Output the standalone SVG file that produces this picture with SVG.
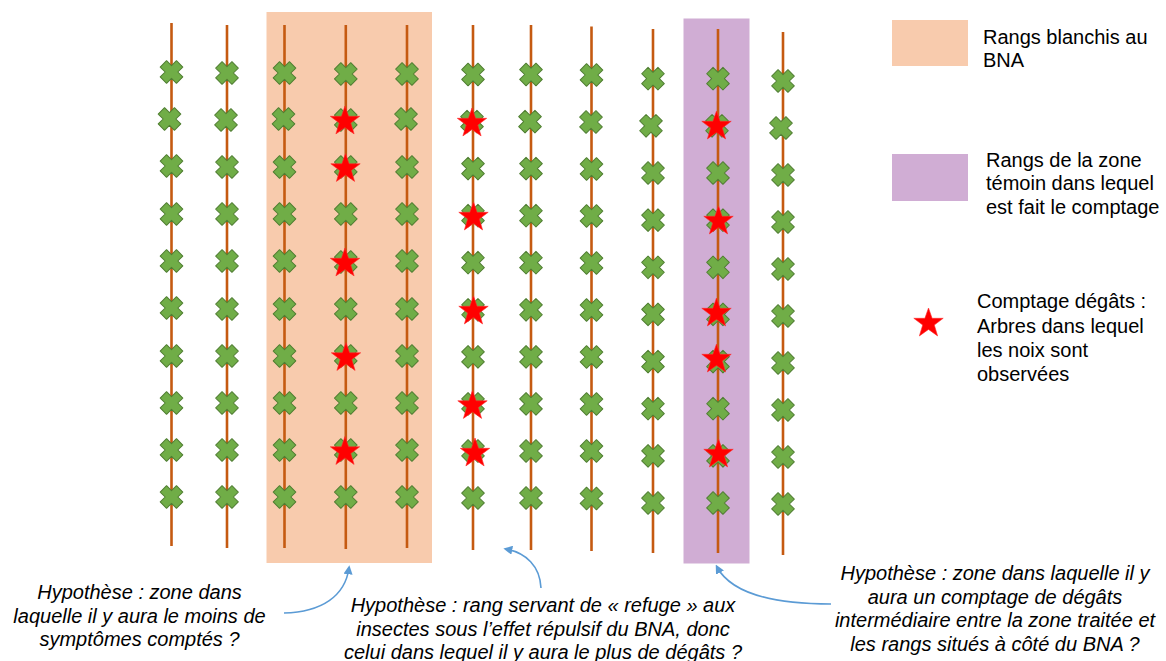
<svg xmlns="http://www.w3.org/2000/svg" xmlns:xlink="http://www.w3.org/1999/xlink" width="1166" height="661" viewBox="0 0 1166 661">
<style>
.row{stroke:#C55A11;stroke-width:2.6;fill:none}
.txt{font-family:"Liberation Sans",Arial,sans-serif;font-size:20px;fill:#000}
.it{font-style:italic;text-anchor:middle}
.conn{stroke:#5B9BD5;stroke-width:1.6;fill:none;marker-end:url(#ah)}
</style>
<defs>
<path id="x" d="M-4.5,-11.5 H4.5 V-4.5 H11.5 V4.5 H4.5 V11.5 H-4.5 V4.5 H-11.5 V-4.5 H-4.5 Z" transform="rotate(45)" fill="#70AD47" stroke="#507E32" stroke-width="1" stroke-linejoin="round"/>
<path id="st" d="M0,-15 L3.6,-4.7 L14.7,-4.7 L5.8,2 L9.1,12.9 L0,6.4 L-9.1,12.9 L-5.8,2 L-14.7,-4.7 L-3.6,-4.7 Z" fill="#FF0000" stroke="#FF2A2A" stroke-width="0.6"/>
<marker id="ah" viewBox="0 0 10 10" refX="7" refY="5" markerWidth="9" markerHeight="9" markerUnits="userSpaceOnUse" orient="auto">
<path d="M0,0 L10,5 L0,10 Z" fill="#5B9BD5"/>
</marker>
</defs>
<rect width="1166" height="661" fill="#fff"/>
<g id="zone-bna"><rect x="266.5" y="12" width="165.5" height="551" fill="#F8CBAD"/></g>
<g id="zone-temoin"><rect x="683.5" y="18.5" width="66" height="545" fill="#D0ADD4"/></g>

<g id="col1">
<line class="row" x1="171.5" y1="23" x2="171.5" y2="546"/>
<use href="#x" x="171.5" y="72"/><use href="#x" x="169.5" y="119"/><use href="#x" x="171.5" y="166"/><use href="#x" x="171.5" y="214"/><use href="#x" x="171.5" y="261"/><use href="#x" x="171.5" y="308"/><use href="#x" x="171.5" y="356"/><use href="#x" x="171.5" y="403"/><use href="#x" x="171.5" y="450"/><use href="#x" x="171.5" y="497"/>
</g>
<g id="col2">
<line class="row" x1="227" y1="25" x2="227" y2="548"/>
<use href="#x" x="227" y="73"/><use href="#x" x="226" y="120"/><use href="#x" x="227" y="167"/><use href="#x" x="227" y="214"/><use href="#x" x="227" y="261"/><use href="#x" x="227" y="309"/><use href="#x" x="227" y="356"/><use href="#x" x="227" y="403"/><use href="#x" x="227" y="450"/><use href="#x" x="227" y="497"/>
</g>
<g id="col3">
<line class="row" x1="284.5" y1="25" x2="284.5" y2="548"/>
<use href="#x" x="284.5" y="73"/><use href="#x" x="283.5" y="119"/><use href="#x" x="284.5" y="167"/><use href="#x" x="284.5" y="214"/><use href="#x" x="284.5" y="261"/><use href="#x" x="284.5" y="309"/><use href="#x" x="284.5" y="356"/><use href="#x" x="284.5" y="403"/><use href="#x" x="284.5" y="450"/><use href="#x" x="284.5" y="497"/>
</g>
<g id="col4">
<line class="row" x1="345.8" y1="25" x2="345.8" y2="549"/>
<use href="#x" x="345.8" y="74"/><use href="#x" x="345.8" y="120"/><use href="#x" x="345.8" y="167"/><use href="#x" x="345.8" y="214"/><use href="#x" x="345.8" y="262"/><use href="#x" x="345.8" y="309"/><use href="#x" x="345.8" y="356"/><use href="#x" x="345.8" y="403"/><use href="#x" x="345.8" y="450"/><use href="#x" x="345.8" y="497"/>
<use href="#st" x="345" y="121"/><use href="#st" x="345.5" y="168.5"/><use href="#st" x="345" y="263"/><use href="#st" x="346" y="357.5"/><use href="#st" x="345" y="451.5"/>
</g>
<g id="col5">
<line class="row" x1="407" y1="25" x2="407" y2="548"/>
<use href="#x" x="407" y="74"/><use href="#x" x="406" y="119"/><use href="#x" x="407" y="167"/><use href="#x" x="407" y="214"/><use href="#x" x="407" y="261"/><use href="#x" x="407" y="309"/><use href="#x" x="407" y="356"/><use href="#x" x="407" y="403"/><use href="#x" x="407" y="450"/><use href="#x" x="407" y="497"/>
</g>
<g id="col6">
<line class="row" x1="473" y1="25" x2="473" y2="550"/>
<use href="#x" x="473" y="74.5"/><use href="#x" x="472" y="121.6"/><use href="#x" x="473" y="168.6"/><use href="#x" x="473" y="215.7"/><use href="#x" x="473" y="262.7"/><use href="#x" x="473" y="309.8"/><use href="#x" x="473" y="356.9"/><use href="#x" x="473" y="403.9"/><use href="#x" x="473" y="451"/><use href="#x" x="473" y="498"/>
<use href="#st" x="472" y="123"/><use href="#st" x="473.5" y="217"/><use href="#st" x="473.5" y="311"/><use href="#st" x="472.5" y="405.5"/><use href="#st" x="475" y="453"/>
</g>
<g id="col7">
<line class="row" x1="531" y1="25" x2="531" y2="550"/>
<use href="#x" x="531" y="74.5"/><use href="#x" x="530" y="121.6"/><use href="#x" x="531" y="168.6"/><use href="#x" x="531" y="215.7"/><use href="#x" x="531" y="262.7"/><use href="#x" x="531" y="309.8"/><use href="#x" x="531" y="356.9"/><use href="#x" x="531" y="403.9"/><use href="#x" x="531" y="451"/><use href="#x" x="531" y="498"/>
</g>
<g id="col8">
<line class="row" x1="591.5" y1="26.5" x2="591.5" y2="551"/>
<use href="#x" x="591.5" y="75"/><use href="#x" x="591" y="122"/><use href="#x" x="591.5" y="169"/><use href="#x" x="591.5" y="216"/><use href="#x" x="591.5" y="263"/><use href="#x" x="591.5" y="310"/><use href="#x" x="591.5" y="357"/><use href="#x" x="591.5" y="404"/><use href="#x" x="591.5" y="451"/><use href="#x" x="591.5" y="498.5"/>
</g>
<g id="col9">
<line class="row" x1="653" y1="29" x2="653" y2="553"/>
<use href="#x" x="653" y="78.7"/><use href="#x" x="651" y="125.8"/><use href="#x" x="653" y="173"/><use href="#x" x="653" y="220.1"/><use href="#x" x="653" y="267.3"/><use href="#x" x="653" y="314.4"/><use href="#x" x="653" y="361.6"/><use href="#x" x="653" y="408.7"/><use href="#x" x="653" y="455.9"/><use href="#x" x="653" y="503"/>
</g>
<g id="col10">
<line class="row" x1="718" y1="29" x2="718" y2="553"/>
<use href="#x" x="718" y="78.7"/><use href="#x" x="717" y="125.8"/><use href="#x" x="718" y="173"/><use href="#x" x="718" y="220.1"/><use href="#x" x="718" y="267.3"/><use href="#x" x="718" y="314.4"/><use href="#x" x="718" y="361.6"/><use href="#x" x="718" y="408.7"/><use href="#x" x="718" y="455.9"/><use href="#x" x="718" y="503"/>
<use href="#st" x="716.5" y="126"/><use href="#st" x="718.5" y="221"/><use href="#st" x="716.5" y="313"/><use href="#st" x="716.5" y="359"/><use href="#st" x="718.5" y="454"/>
</g>
<g id="col11">
<line class="row" x1="783" y1="32" x2="783" y2="555"/>
<use href="#x" x="783" y="81"/><use href="#x" x="781" y="128"/><use href="#x" x="783" y="175"/><use href="#x" x="783" y="222"/><use href="#x" x="783" y="269"/><use href="#x" x="783" y="316"/><use href="#x" x="783" y="363"/><use href="#x" x="783" y="410"/><use href="#x" x="783" y="457"/><use href="#x" x="783" y="504"/>
</g>

<g id="legend-bna">
<rect x="892" y="20" width="76" height="46" fill="#F8CBAD"/>
<text class="txt" x="983" y="43.5">Rangs blanchis au</text>
<text class="txt" x="983" y="67">BNA</text>
</g>
<g id="legend-temoin">
<rect x="892" y="154" width="76" height="47" fill="#D0ADD4"/>
<text class="txt" x="986" y="166.5">Rangs de la zone</text>
<text class="txt" x="986" y="190">témoin dans lequel</text>
<text class="txt" x="986" y="213.5">est fait le comptage</text>
</g>
<g id="legend-star">
<use href="#st" x="928.5" y="323"/>
<text class="txt" x="977" y="308">Comptage dégâts :</text>
<text class="txt" x="977" y="332.5">Arbres dans lequel</text>
<text class="txt" x="977" y="357">les noix sont</text>
<text class="txt" x="977" y="381">observées</text>
</g>

<g id="hyp1">
<text class="txt it" x="139.5" y="599">Hypothèse : zone dans</text>
<text class="txt it" x="139.5" y="623">laquelle il y aura le moins de</text>
<text class="txt it" x="139.5" y="646">symptômes comptés ?</text>
</g>
<g id="hyp2">
<text class="txt it" x="543" y="612">Hypothèse : rang servant de « refuge » aux</text>
<text class="txt it" x="543" y="636">insectes sous l’effet répulsif du BNA, donc</text>
<text class="txt it" x="543" y="659">celui dans lequel il y aura le plus de dégâts ?</text>
</g>
<g id="hyp3">
<text class="txt it" x="995" y="580">Hypothèse : zone dans laquelle il y</text>
<text class="txt it" x="995" y="604">aura un comptage de dégâts</text>
<text class="txt it" x="995" y="627">intermédiaire entre la zone traitée et</text>
<text class="txt it" x="995" y="651">les rangs situés à côté du BNA ?</text>
</g>

<g id="connectors">
<path class="conn" d="M284,613 C322,612 345,596 349,568"/>
<path class="conn" d="M541,588 C540,566 526,553 506,549"/>
<path class="conn" d="M831,604 C772,604 731,593 717,567"/>
</g>
</svg>
